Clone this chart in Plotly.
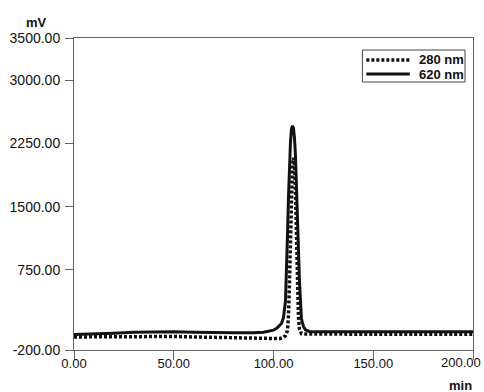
import plotly.graph_objects as go

# ---- data ----
t_620 = [0, 10, 20, 30, 40, 50, 60, 70, 80, 90, 95, 100, 102, 104, 105, 106, 106.5, 107, 107.5,
         108, 108.5, 109, 109.5, 110, 110.5, 111, 111.5, 112, 112.5, 113, 113.5, 114, 115, 116,
         118, 120, 130, 140, 150, 160, 170, 180, 190, 200]
mv_620 = [-15, -10, 0, 10, 15, 15, 10, 5, 5, 5, 10, 35, 65, 115, 185, 380, 700, 1150, 1600,
          1980, 2260, 2420, 2460, 2430, 2320, 2110, 1800, 1400, 1000, 620, 330, 170, 80, 40,
          20, 15, 15, 15, 15, 15, 15, 15, 15, 15]

t_280 = [0, 10, 20, 30, 40, 50, 60, 70, 80, 90, 95, 100, 103, 105, 106, 107, 107.5, 108, 108.5,
         109, 109.5, 110, 110.5, 111, 111.5, 112, 112.5, 113, 114, 116, 120, 130, 140, 150, 160,
         170, 180, 190, 200]
mv_280 = [-45, -42, -40, -38, -38, -40, -45, -50, -55, -62, -68, -70, -65, -50, -30, 30, 200,
          600, 1200, 1750, 2000, 2080, 2000, 1700, 1150, 550, 200, 50, -5, -10, -12, -12, -12,
          -12, -12, -12, -12, -12, -12]

series_names = ["280 nm", "620 nm"]
x_ticks = [0, 50, 100, 150, 200]
x_tick_text = ["0.00", "50.00", "100.00", "150.00", "200.00"]
y_ticks = [-200, 750, 1500, 2250, 3000, 3500]
y_tick_text = ["-200.00", "750.00", "1500.00", "2250.00", "3000.00", "3500.00"]

FONT = "Liberation Sans, Arial, sans-serif"
INK = "#111111"
DOT = "3px,2px"

fig = go.Figure()
fig.add_trace(go.Scatter(x=t_620, y=mv_620, mode="lines", name=series_names[1],
                         line=dict(color=INK, width=3), showlegend=False, hoverinfo="skip"))
fig.add_trace(go.Scatter(x=t_280, y=mv_280, mode="lines", name=series_names[0],
                         line=dict(color=INK, width=3.5, dash=DOT), showlegend=False,
                         hoverinfo="skip"))

axis_common = dict(showline=True, linecolor="#666666", linewidth=1, mirror=True,
                   ticks="outside", tickcolor="#666666", showgrid=False, zeroline=False)

# last x tick label is drawn as an annotation, shifted left so it stays on the page
fig.update_xaxes(range=[0, 200], tickvals=x_ticks, ticktext=x_tick_text[:-1] + [""],
                 ticklen=9, ticklabelstandoff=-8,
                 tickfont=dict(family=FONT, size=13, color=INK), **axis_common)
fig.update_yaxes(range=[-200, 3500], tickvals=y_ticks, ticktext=y_tick_text,
                 ticklen=8, ticklabelstandoff=2,
                 tickfont=dict(family=FONT, size=14, color=INK), **axis_common)

fig.add_annotation(text=x_tick_text[-1], xref="paper", yref="paper", x=0.970, y=-0.0385,
                   xanchor="center", yanchor="middle", showarrow=False,
                   font=dict(family=FONT, size=13, color=INK))
fig.add_annotation(text="<b>mV</b>", xref="paper", yref="paper", x=-0.094, y=1.051,
                   xanchor="center", yanchor="middle", showarrow=False,
                   font=dict(family=FONT, size=13, color=INK))
fig.add_annotation(text="<b>min</b>", xref="paper", yref="paper", x=0.968, y=-0.113,
                   xanchor="center", yanchor="middle", showarrow=False,
                   font=dict(family=FONT, size=13, color=INK))

# legend box drawn in paper coordinates
fig.add_shape(type="rect", xref="paper", yref="paper", x0=0.7228, x1=0.980, y0=0.859, y1=0.9615,
              line=dict(color="#444444", width=1), fillcolor="white", layer="above")
legend_rows = [(0.9295, dict(color=INK, width=3.5, dash=DOT)),
               (0.8846, dict(color=INK, width=3))]
for name, (yy, ln) in zip(series_names, legend_rows):
    fig.add_shape(type="line", xref="paper", yref="paper", x0=0.7327, x1=0.8416, y0=yy, y1=yy,
                  line=ln, layer="above")
    fig.add_annotation(text="<b>" + name + "</b>", xref="paper", yref="paper", x=0.8589, y=yy,
                       xanchor="left", yanchor="middle", showarrow=False,
                       font=dict(family=FONT, size=13, color=INK))

fig.update_layout(
    width=484, height=392,
    margin=dict(l=70, r=10, t=38, b=42),
    paper_bgcolor="white", plot_bgcolor="white",
    showlegend=False,
)

fig.write_html("out.html", config={"displayModeBar": False},
               post_script="document.body.style.margin='0';")
